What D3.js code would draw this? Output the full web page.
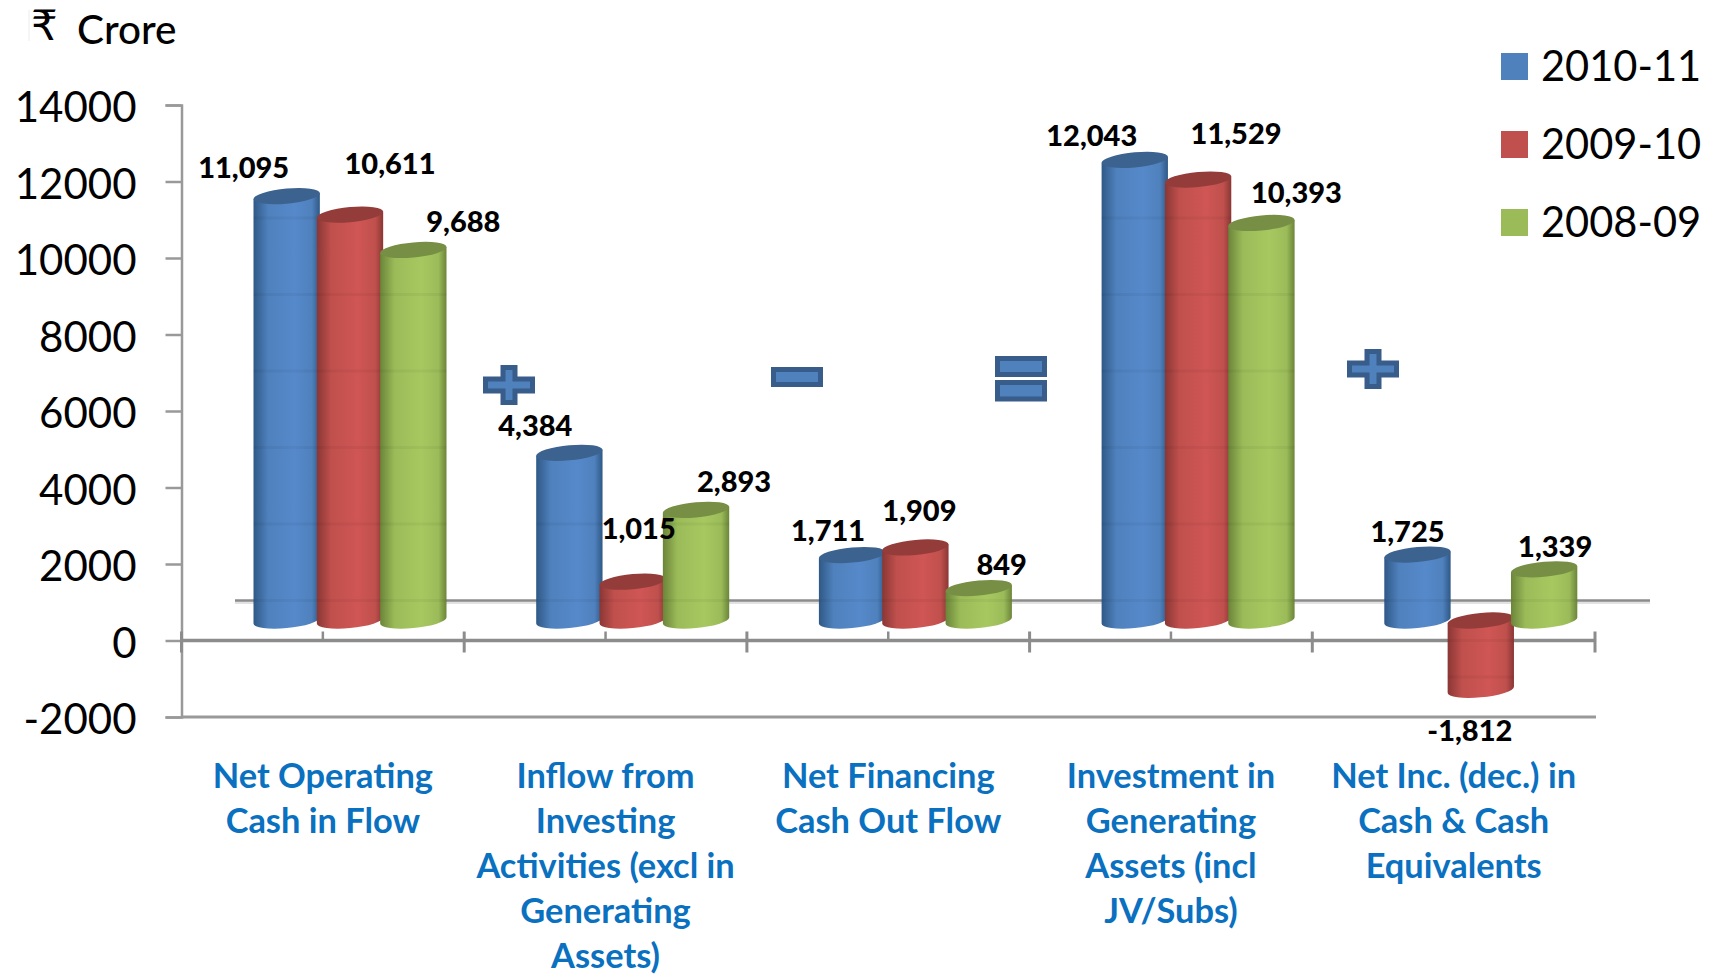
<!DOCTYPE html>
<html>
<head>
<meta charset="utf-8">
<script src="https://cdnjs.cloudflare.com/ajax/libs/d3/7.8.5/d3.min.js"></script>
<style>
html, body { margin: 0; padding: 0; background: #fff; }
svg { display: block; font-family: Lato, "Open Sans", sans-serif; }
</style>
</head>
<body>
<svg id="chart" width="1717" height="974"></svg>
<script>
//The data
var categories = ["Net Operating", "Inflow from", "Net Financing", "Investment in", "Net Inc. (dec.) in"]
var categoryLines = [
	["Net Operating", "Cash in Flow"],
	["Inflow from", "Investing", "Activities (excl in", "Generating", "Assets)"],
	["Net Financing", "Cash Out Flow"],
	["Investment in", "Generating", "Assets (incl", "JV/Subs)"],
	["Net Inc. (dec.) in", "Cash & Cash", "Equivalents"]
]
var seriesNames = ["2010-11", "2009-10", "2008-09"]
var values2010 = [11095, 4384, 1711, 12043, 1725]
var values2009 = [10611, 1015, 1909, 11529, -1812]
var values2008 = [9688, 2893, 849, 10393, 1339]
var yTicks = [-2000, 0, 2000, 4000, 6000, 8000, 10000, 12000, 14000]

//Where the labels were dragged to in the original, relative to the bar top
var labelShift = [
	[[-43, -29], [40, -51], [50, -28]],
	[[-34, -27], [6, -53], [38, -28]],
	[[-24, -24], [4, -37], [23, -23]],
	[[-43, -24], [38, -46], [35, -30]],
	[[-10, -23], [-11, 110], [11, -23]]
]

//Colours: base, light middle of the cylinder, dark edge, cap
var colours = [
	{ base: "#4f81bd", light: "#5689ca", edge: "#2f5886", cap: "#3c638f" },
	{ base: "#c0504d", light: "#cf5654", edge: "#8a3735", cap: "#943c3a" },
	{ base: "#9bbb59", light: "#a7c860", edge: "#6b8539", cap: "#778f44" }
]

var svg = d3.select("#chart")
var series = [values2010, values2009, values2008]
var axisGrey = "#8c8c8c"
var hyphen = function(s) { return s.replace("\u2212", "-") }

//Scales
var y = d3.scaleLinear().domain([-2000, 14000]).range([717, 105])
var x = d3.scaleBand().domain(categories).range([181.5, 1595])
var xBar = d3.scaleBand().domain(seriesNames).range([255, 445])
var depth = 20 //the 3d bars sit this far above the axis
var groupStart = function(c) { return x(c) - x(categories[0]) }
var barCx = function(c, s) { return groupStart(c) + xBar(s) + xBar.bandwidth() / 2 }

//Gradients for the cylinders
var defs = svg.append("defs")
colours.forEach(function(c, i) {
	var g = defs.append("linearGradient").attr("id", "cyl" + i)
	g.append("stop").attr("offset", "0%").attr("stop-color", c.edge)
	g.append("stop").attr("offset", "22%").attr("stop-color", c.base)
	g.append("stop").attr("offset", "62%").attr("stop-color", c.light)
	g.append("stop").attr("offset", "88%").attr("stop-color", c.base)
	g.append("stop").attr("offset", "100%").attr("stop-color", c.edge)
})

//Back floor line
var floorY = y(0) - 40
svg.append("line").attr("x1", 235).attr("x2", 1650).attr("y1", floorY + 2).attr("y2", floorY + 2)
	.attr("stroke", "#e2e2e2").attr("stroke-width", 3)
svg.append("line").attr("x1", 235).attr("x2", 1650).attr("y1", floorY).attr("y2", floorY)
	.attr("stroke", axisGrey).attr("stroke-width", 2.5)

//Y axis
var yAxis = svg.append("g")
	.attr("transform", "translate(181.5,0)")
	.call(d3.axisLeft(y).tickValues(yTicks).tickSize(16).tickPadding(29).tickFormat(function(d) { return hyphen(d3.format("d")(d)) }))
yAxis.select(".domain").attr("stroke", "#999").attr("stroke-width", 2.5)
yAxis.selectAll(".tick line").attr("stroke", "#999").attr("stroke-width", 2.5)
yAxis.selectAll(".tick text").attr("fill", "#000").style("font-size", "42px").style("font-family", "Lato").attr("dy", "0.4em")

//Bottom line and the zero line with its ticks
svg.append("line").attr("x1", 181.5).attr("x2", 1596).attr("y1", y(-2000)).attr("y2", y(-2000))
	.attr("stroke", "#999").attr("stroke-width", 3)
svg.append("line").attr("x1", 181.5).attr("x2", 1596).attr("y1", y(0)).attr("y2", y(0))
	.attr("stroke", axisGrey).attr("stroke-width", 3.5)
var xAxis = svg.append("g").attr("transform", "translate(0," + y(0) + ")")
	.call(d3.axisBottom(x).tickSize(-9).tickFormat(""))
xAxis.select(".domain").remove()
xAxis.selectAll(".tick line").attr("stroke", axisGrey).attr("stroke-width", 2.5)
svg.append("g").selectAll("line")
	.data(categories.concat(["end"]))
	.enter()
	.append("line")
	.attr("x1", function(d, i) { return x.range()[0] + i * x.step() })
	.attr("x2", function(d, i) { return x.range()[0] + i * x.step() })
	.attr("y1", y(0) - 9)
	.attr("y2", y(0) + 12)
	.attr("stroke", axisGrey)
	.attr("stroke-width", 3)

//Cylinders
var rx = xBar.bandwidth() / 2 + 1.5
var ry = 7.5
var tilt = 3
function capPath(cx, yc) {
	return "M" + (cx - rx) + "," + (yc + tilt) +
		"A" + rx + "," + ry + " -5.4 1 1 " + (cx + rx) + "," + (yc - tilt) +
		"A" + rx + "," + ry + " -5.4 1 1 " + (cx - rx) + "," + (yc + tilt) + "Z"
}
function bodyPath(cx, yTop, yBottom) {
	return "M" + (cx - rx) + "," + (yTop + tilt) +
		"L" + (cx + rx) + "," + (yTop - tilt) +
		"L" + (cx + rx) + "," + (yBottom - tilt) +
		"A" + rx + "," + ry + " -5.4 1 1 " + (cx - rx) + "," + (yBottom + tilt) + "Z"
}
var bars = []
categories.forEach(function(c, ci) {
	seriesNames.forEach(function(s, si) {
		bars.push({ c: c, ci: ci, s: s, si: si, v: series[si][ci] })
	})
})
var barG = svg.append("g").selectAll("g")
	.data(bars)
	.enter()
	.append("g")
barG.append("path")
	.attr("d", function(d) {
		var a = y(Math.max(d.v, 0)) - depth, b = y(Math.min(d.v, 0)) - depth
		return bodyPath(barCx(d.c, d.s), a, b)
	})
	.attr("fill", function(d) { return "url(#cyl" + d.si + ")" })
barG.append("path")
	.attr("d", function(d) { return capPath(barCx(d.c, d.s), y(Math.max(d.v, 0)) - depth) })
	.attr("fill", function(d) { return colours[d.si].cap })

//Back gridlines showing faintly through the bars
barG.each(function(d) {
	var top = y(Math.max(d.v, 0)) - depth + ry + 2
	var bottom = y(Math.min(d.v, 0)) - depth
	var cx = barCx(d.c, d.s)
	var lines = yTicks.map(function(t) { return y(t) - 40 })
		.concat(d.v < 0 ? [y(0)] : [])
		.filter(function(p) { return p > top && p < bottom })
	d3.select(this).selectAll("line.through")
		.data(lines)
		.enter()
		.append("line")
		.attr("class", "through")
		.attr("x1", cx - rx).attr("x2", cx + rx)
		.attr("y1", function(p) { return p }).attr("y2", function(p) { return p })
		.attr("stroke", "#000").attr("stroke-opacity", 0.04).attr("stroke-width", 3)
})

//Value labels
svg.append("g").selectAll("text")
	.data(bars)
	.enter()
	.append("text")
	.attr("x", function(d) { return barCx(d.c, d.s) + labelShift[d.ci][d.si][0] })
	.attr("y", function(d) { return y(Math.max(d.v, 0)) - depth + labelShift[d.ci][d.si][1] })
	.attr("text-anchor", "middle")
	.attr("dy", "0.36em")
	.style("font-size", "29px")
	.style("font-weight", "900")
	.attr("fill", "#000")
	.text(function(d) { return hyphen(d3.format(",")(d.v)) })

//Category labels
svg.append("g").selectAll("text")
	.data(categories)
	.enter()
	.append("text")
	.attr("x", function(d) { return x(d) + x.bandwidth() / 2 })
	.attr("y", 787.5)
	.attr("text-anchor", "middle")
	.attr("fill", "#0a70c0")
	.style("font-size", "34.4px")
	.style("font-weight", "700")
	.each(function(d, i) {
		d3.select(this).selectAll("tspan")
			.data(categoryLines[i])
			.enter()
			.append("tspan")
			.attr("x", x(d) + x.bandwidth() / 2)
			.attr("dy", function(l, j) { return j ? 45 : 0 })
			.text(function(l) { return l })
	})

//Legend
var legend = svg.append("g").selectAll("g")
	.data(seriesNames)
	.enter()
	.append("g")
	.attr("transform", function(d, i) { return "translate(1501," + (66 + i * 78) + ")" })
legend.append("rect").attr("x", 0).attr("y", -13).attr("width", 27).attr("height", 27)
	.attr("fill", function(d, i) { return colours[i].base })
legend.append("text").attr("x", 40).attr("dy", "0.36em")
	.style("font-size", "41.6px").attr("fill", "#000")
	.text(function(d) { return d })

//Unit title
svg.append("line").attr("x1", 29).attr("x2", 29).attr("y1", 10).attr("y2", 41).attr("stroke", "#ececec")
svg.append("text").attr("x", 31).attr("y", 40).style("font-family", "'DejaVu Sans'").style("font-size", "42px").text("₹")
svg.append("text").attr("x", 77).attr("y", 44).style("font-size", "40.5px").style("font-weight", "500").text("Crore")

//The plus, minus and equals signs between the groups
var signs = [
	{ k: "+", cx: 509, cy: 385 },
	{ k: "-", cx: 797, cy: 377 },
	{ k: "=", cx: 1021, cy: 379 },
	{ k: "+", cx: 1373, cy: 369 }
]
var signPaths = {
	"+": "M-23.5,-6H-6V-17.5H6V-6H23.5V6H6V17.5H-6V6H-23.5Z",
	"-": "M-23.5,-7.5H23.5V7.5H-23.5Z",
	"=": "M-23.5,-20.5H23.5V-4.5H-23.5ZM-23.5,3.5H23.5V20H-23.5Z"
}
svg.append("g").selectAll("path")
	.data(signs)
	.enter()
	.append("path")
	.attr("transform", function(d) { return "translate(" + d.cx + "," + d.cy + ")" })
	.attr("d", function(d) { return signPaths[d.k] })
	.attr("fill", "#4f81bd")
	.attr("stroke", "#385d8a")
	.attr("stroke-width", 5)
</script>
</body>
</html>
